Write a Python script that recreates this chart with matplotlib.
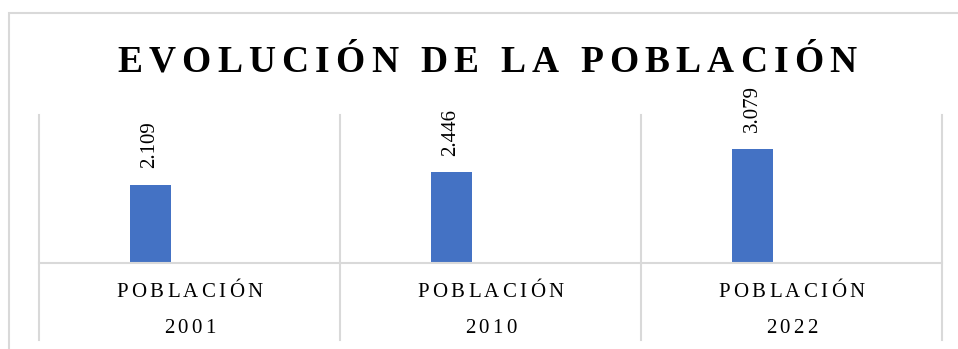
import matplotlib
matplotlib.use('Agg')
import matplotlib.pyplot as plt
from matplotlib.font_manager import FontProperties
from matplotlib.patches import Rectangle

# datos
categorias = ['2001', '2010', '2022']
etiqueta_serie = 'POBLACIÓN'
poblacion = [2109, 2446, 3079]
serie2 = [10, 0, 0]

W, H = 958, 349
fig = plt.figure(figsize=(W / 100, H / 100), dpi=100)
fig.patch.set_facecolor('white')

serif = 'Liberation Serif'
gris = '#d9d9d9'

# marco exterior
fig.add_artist(Rectangle((9 / W, -0.1), 1.2, 1 - 13 / H + 0.1, transform=fig.transFigure,
                         fill=False, edgecolor=gris, linewidth=1.5, clip_on=False))

ax = fig.add_axes([39 / W, (H - 263) / H, (942 - 39) / W, (263 - 115) / H])
x = list(range(len(categorias)))
ancho = 0.136
desp = 0.131
barras = ax.bar([i - desp for i in x], poblacion, ancho, color='#4472C4', zorder=2)
ax.bar([i + desp for i in x], serie2, ancho, color='#ED7D31', zorder=1)

for b, v in zip(barras, poblacion):
    txt = f'{v:,}'.replace(',', '.')
    ax.annotate(txt, (b.get_x() + b.get_width() / 2, v), xytext=(0, 12),
                textcoords='offset points', rotation=90, ha='center', va='bottom',
                fontsize=15, family=serif, color='black')

ax.set_xlim(-0.5, len(categorias) - 0.5)
ax.set_ylim(0, 4000)
ax.set_xticks([])
ax.set_yticks([])
for s in ['top', 'left', 'right']:
    ax.spines[s].set_visible(False)
ax.spines['bottom'].set_color(gris)
ax.spines['bottom'].set_linewidth(1.5)
ax.spines['bottom'].set_zorder(3)

# separadores de categorias
ymin = -(340 - 263) / (263 - 115)
for xs in [i - 0.5 for i in range(len(categorias) + 1)]:
    ax.axvline(xs, ymin=ymin, ymax=1, color=gris, linewidth=1.5, clip_on=False, zorder=0)

renderer = fig.canvas.get_renderer()


def avance(ch, fp):
    a = renderer.get_text_width_height_descent('x' + ch + 'x', fp, ismath=False)[0]
    b = renderer.get_text_width_height_descent('xx', fp, ismath=False)[0]
    return a - b


def texto_espaciado(xc, yb, s, tracking, fp):
    avs = [avance(c, fp) for c in s]
    total = sum(avs) + tracking * (len(s) - 1)
    pos = xc - total / 2
    for c, a in zip(s, avs):
        fig.text((pos + a / 2) / W, 1 - yb / H, c, ha='center', va='baseline',
                 fontproperties=fp, color='black')
        pos += a + tracking


fp_titulo = FontProperties(family=serif, size=27, weight='bold')
texto_espaciado(487, 72, 'EVOLUCIÓN DE LA POBLACIÓN', 6.2, fp_titulo)

fp_cat = FontProperties(family=serif, size=15)
for i, cat in enumerate(categorias):
    xc = 39 + (i + 0.5) * (942 - 39) / len(categorias)
    texto_espaciado(xc, 297, etiqueta_serie, 3.3, fp_cat)
    texto_espaciado(xc, 333, cat, 3.3, fp_cat)

fig.savefig('out.png', dpi=100)
